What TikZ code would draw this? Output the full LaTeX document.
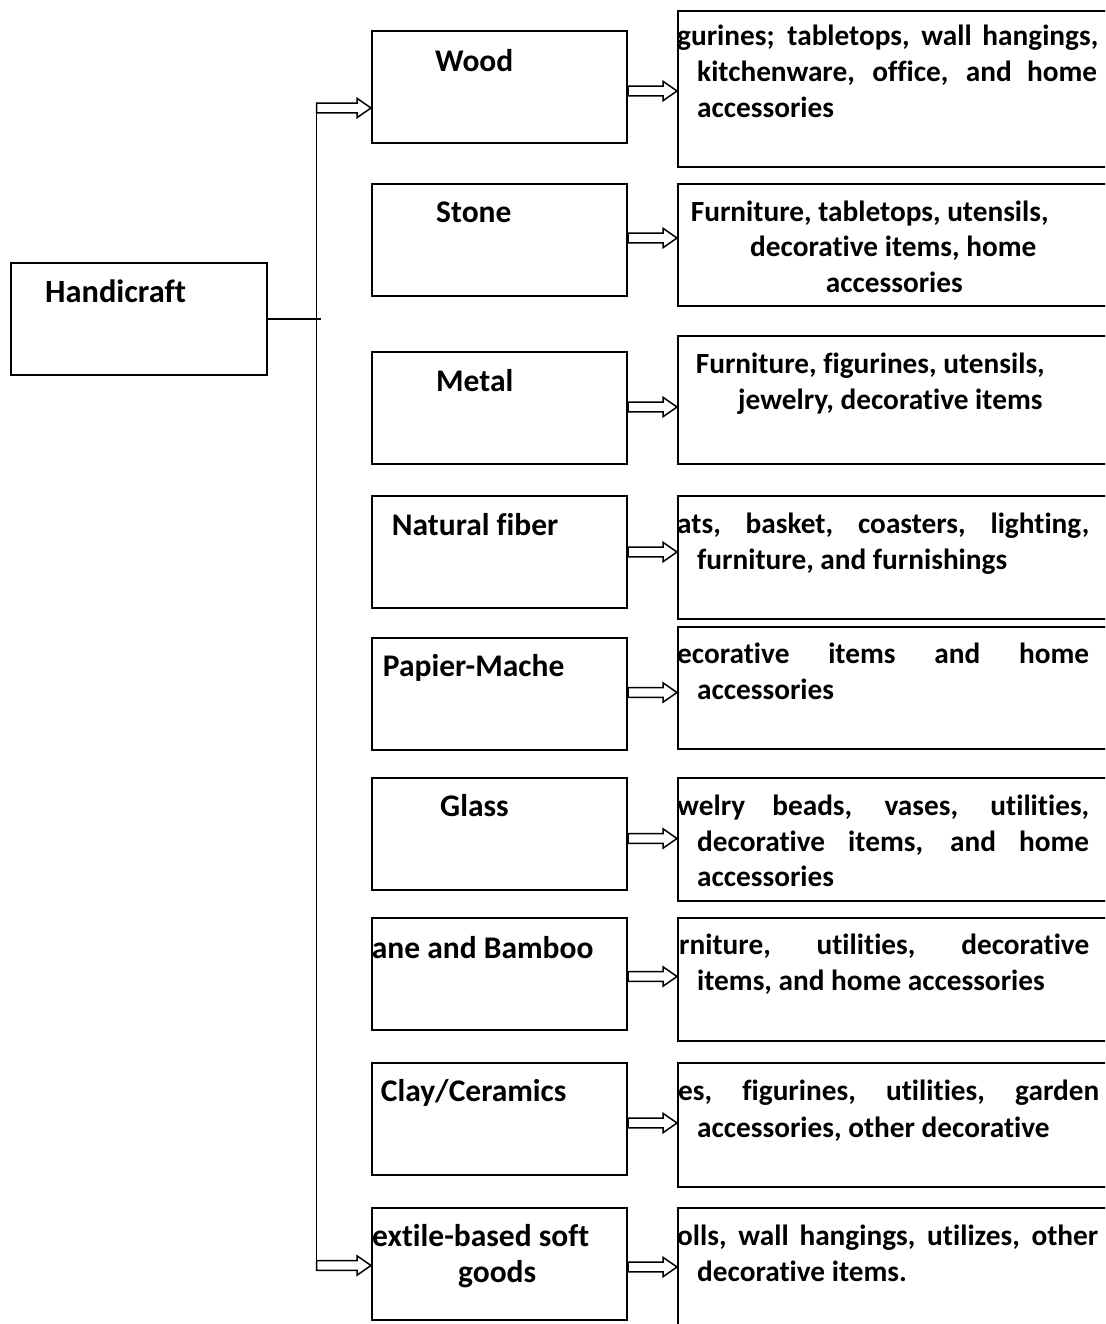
\documentclass[tikz,border=0pt]{standalone}
\usepackage{fontspec}
\setmainfont{Carlito}[Ligatures=NoCommon]
\usetikzlibrary{calc}
\tikzset{
  box/.style={draw, line width=2pt, rectangle, inner sep=0pt, anchor=north west},
  lbl/.style={anchor=base west, inner sep=0pt, font=\fontsize{31.5}{36}\selectfont\bfseries},
  dsc/.style={anchor=base west, inner sep=0pt, font=\fontsize{29.3}{36}\selectfont\bfseries},
  barrow/.style={draw, line width=1.5pt, fill=white, line join=miter},
  trunkline/.style={draw, line width=1.8pt},
}
\newcommand\blockarrow[2]{\path[barrow] let \p1=(#1), \p2=(#2) in
  (\x1,\y1+4.8pt) -- (\x2-14pt,\y1+4.8pt) -- (\x2-14pt,\y1+9.7pt) -- (\x2,\y1)
  -- (\x2-14pt,\y1-9.7pt) -- (\x2-14pt,\y1-4.8pt) -- (\x1,\y1-4.8pt) -- cycle;}
\begin{document}
\begin{tikzpicture}[x=1pt,y=-1pt]
\useasboundingbox (0,0) rectangle (1105,1324);
\clip (0,0) rectangle (1105,1324);

% root
\node[box, minimum width=256pt, minimum height=112pt] (hc) at (10,262) {};
\node[lbl, font=\fontsize{32.4}{36}\selectfont\bfseries] (hct) at (45,302.7) {Handicraft};

% middle boxes
\foreach \n/\y in {1/30,2/183,3/351,4/495,5/637,6/777,7/917,8/1062,9/1207}{
  \node[box, minimum width=255pt, minimum height=112pt] (m\n) at (371,\y) {};
}
% right boxes
\node[box, minimum width=445pt, minimum height=156pt] (r1) at (677,10) {};
\node[box, minimum width=445pt, minimum height=122pt] (r2) at (677,183) {};
\node[box, minimum width=445pt, minimum height=128pt] (r3) at (677,335) {};
\node[box, minimum width=445pt, minimum height=123pt] (r4) at (677,495) {};
\node[box, minimum width=445pt, minimum height=122pt] (r5) at (677,626) {};
\node[box, minimum width=445pt, minimum height=123pt] (r6) at (677,777) {};
\node[box, minimum width=445pt, minimum height=123pt] (r7) at (677,917) {};
\node[box, minimum width=445pt, minimum height=124pt] (r8) at (677,1062) {};
\node[box, minimum width=445pt, minimum height=140pt] (r9) at (677,1207) {};

% middle labels
\node[lbl] (l1) at (435,71.7) {Wood};
\node[lbl] (l2) at (436,223) {Stone};
\node[lbl] (l3) at (436,391.7) {Metal};
\node[lbl] (l4) at (391.7,535) {Natural fiber};
\node[lbl] (l5) at (382.7,676.7) {Papier-Mache};
\node[lbl] (l6) at (440,816.7) {Glass};
\node[lbl] (l7) at (371.7,958) {ane and Bamboo};
\node[lbl] (l8) at (380.7,1101.7) {Clay/Ceramics};
\node[lbl] (l9a) at (372,1246.7) {extile-based soft};
\node[lbl] (l9b) at (458,1282) {goods};

% right texts
\node[dsc] (d1a) at (677,46) {\makebox[421pt][s]{gurines; tabletops, wall hangings,}};
\node[dsc] (d1b) at (697,82) {\makebox[400pt][s]{kitchenware, office, and home}};
\node[dsc] (d1c) at (697,118) {accessories};

\node[dsc] (d2a) at (690.7,221.7) {Furniture, tabletops, utensils,};
\node[dsc] (d2b) at (750,257) {decorative items, home};
\node[dsc] (d2c) at (825.7,292.7) {accessories};

\node[dsc] (d3a) at (695.7,373) {Furniture, figurines, utensils,};
\node[dsc] (d3b) at (738,409) {jewelry, decorative items};

\node[dsc] (d4a) at (677,533) {\makebox[412pt][s]{ats, basket, coasters, lighting,}};
\node[dsc] (d4b) at (697,569) {furniture, and furnishings};

\node[dsc] (d5a) at (677,663) {\makebox[412pt][s]{ecorative items and home}};
\node[dsc] (d5b) at (697,699) {accessories};

\node[dsc] (d6a) at (677,815) {\makebox[412pt][s]{welry beads, vases, utilities,}};
\node[dsc] (d6b) at (697,851) {\makebox[392pt][s]{decorative items, and home}};
\node[dsc] (d6c) at (697,886) {accessories};

\node[dsc] (d7a) at (679,954) {\makebox[410pt][s]{rniture, utilities, decorative}};
\node[dsc] (d7b) at (697,990) {items, and home accessories};

\node[dsc] (d8a) at (678,1100) {\makebox[421pt][s]{es, figurines, utilities, garden}};
\node[dsc] (d8b) at (697,1137) {accessories, other decorative};

\node[dsc] (d9a) at (677,1245) {\makebox[421pt][s]{olls, wall hangings, utilizes, other}};
\node[dsc] (d9b) at (697,1281) {decorative items.};

% trunk
\coordinate (tt) at (316.5,108);
\coordinate (tb) at (316.5,1265.5);
\path[trunkline] (hc.east) -- ++(53,0) coordinate (hj);
\path[trunkline] ([yshift=4.8pt]tt) -- ([yshift=-4.8pt]tb);
\blockarrow{tt}{m1.west}
\blockarrow{tb}{m9.west}

% middle -> right arrows
\blockarrow{[yshift=-4pt]m1.east}{r1.west}
\blockarrow{[yshift=2pt]m2.east}{r2.west}
\blockarrow{[yshift=1pt]m3.east}{r3.west}
\blockarrow{m4.east}{r4.west}
\blockarrow{[yshift=1.5pt]m5.east}{r5.west}
\blockarrow{[yshift=-4.5pt]m6.east}{r6.west}
\blockarrow{[yshift=-2.5pt]m7.east}{r7.west}
\blockarrow{[yshift=-4pt]m8.east}{r8.west}
\blockarrow{[yshift=-3pt]m9.east}{r9.west}
\end{tikzpicture}
\end{document}
